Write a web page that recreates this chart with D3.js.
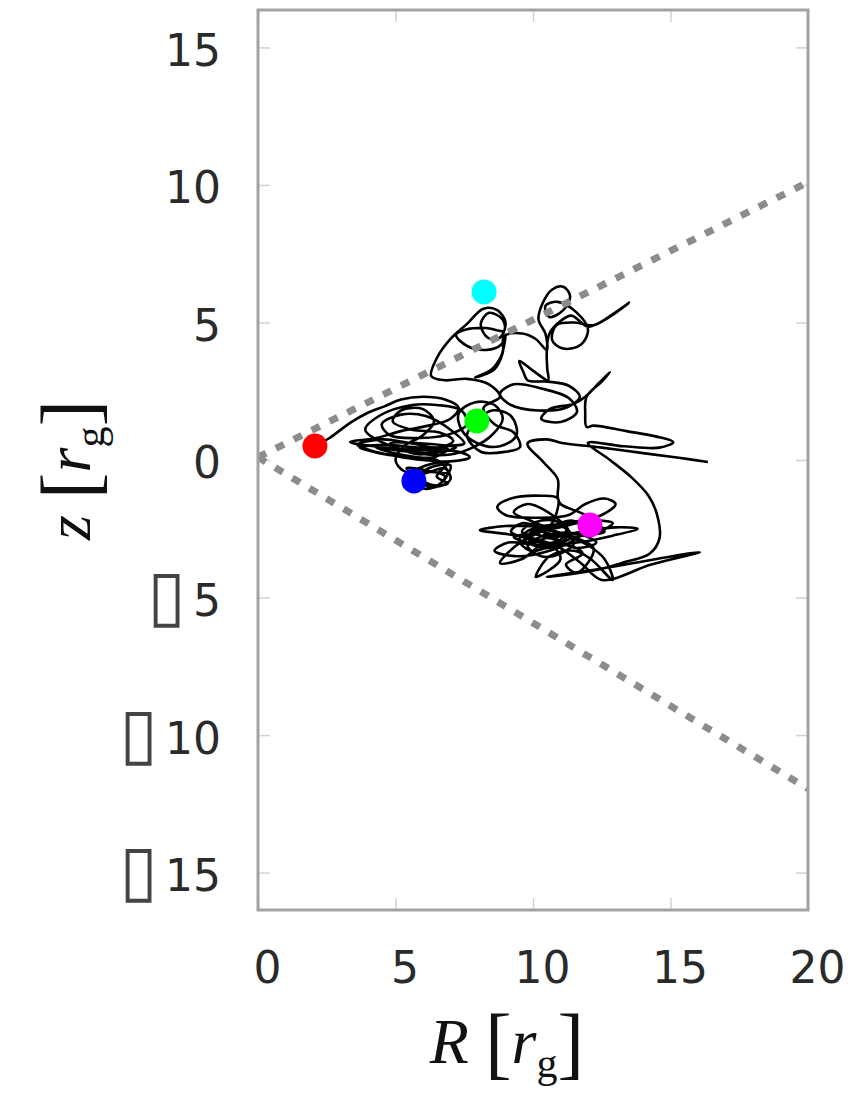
<!DOCTYPE html>
<html><head><meta charset="utf-8">
<script src="https://cdn.jsdelivr.net/npm/d3@7"></script>
<style>html,body{margin:0;padding:0;background:#fff;}svg{display:block;}</style>
</head><body>
<script>
const xTicks = [0, 5, 10, 15, 20];
const yTicks = [-15, -10, -5, 0, 5, 10, 15];
const xDomain = [0, 20];
const yDomain = [-16.36, 16.36];

// trajectory in (R, z) [r_g]
const trajectory = [
[2.07,0.51],[2.6,0.8],[3.35,1.35],[3.96,1.7],[4.6,1.95],[5.2,2.2],[6.0,2.3],[6.8,2.2],[7.3,1.9],[7.0,1.5],[6.2,1.25],[5.2,1.05],[4.3,0.8],[3.35,0.65],[4.2,0.5],[5.2,0.4],[6.3,0.35],[7.3,0.3],[7.7,0.1],[7.0,-0.05],[6.0,0.0],[5.0,0.15],[4.1,0.35],[3.6,0.55],[4.5,0.75],[5.6,0.6],[6.6,0.45],[7.1,0.7],[6.6,1.0],[5.6,1.1],[4.9,1.4],[5.2,1.8],[6.0,1.85],[6.4,1.4],[6.0,0.9],[5.3,0.5],[5.0,0.0],[5.3,-0.4],[6.0,-0.5],[6.8,-0.3],[7.0,-0.7],[6.6,-0.95],[6.0,-0.85],[5.6,-0.5],[6.1,-0.2],[6.9,-0.1],[6.5,-0.6],[6.9,-0.85],[6.3,-0.9],[5.4,-0.3],
[6.2,-0.4],[6.8,-0.6],[6.4,-1.0],[5.8,-0.7],[6.2,-0.3],[7.0,-0.2],[6.7,-0.8],[6.1,-1.05],[5.7,-0.8],[6.0,-0.45],[6.9,-0.45],[6.5,0.0],[5.5,0.1],[4.4,0.25],[3.7,0.45],[4.6,0.55],[5.8,0.45],[6.9,0.4],[6.4,0.1],[5.2,0.2],[4.3,0.45],[5.1,0.35],[6.3,0.25],[7.2,0.45],[6.0,0.6],[4.8,0.6],
[5.9,0.2],[6.8,0.5],[7.5,0.6],[7.0,1.1],[6.1,1.6],[5.2,1.65],[4.5,1.3],[4.8,0.9],[5.9,0.8],[7.0,0.95],[7.6,1.3],[7.4,1.8],[6.5,2.0],[5.6,2.0],[4.4,1.6],[3.9,1.1],[4.6,0.6],[5.8,0.25],[7.0,0.2],[7.8,0.45],[8.5,0.9],[8.9,1.5],[8.6,2.0],[7.9,2.1],[7.3,1.7],[7.4,1.1],[8.0,0.6],[8.8,0.5],[9.4,0.9],[9.2,1.6],[8.5,1.8],[7.96,1.42],[7.6,0.9],[8.1,0.3],[9.0,0.3],[9.53,0.47],[9.3,1.0],[8.6,1.3],[8.2,1.9],[8.8,2.3],
[8.4,2.75],[7.6,2.95],[6.8,2.9],[6.3,3.05],[6.5,3.7],[7.0,4.4],[7.6,4.95],[8.2,5.5],[8.7,5.45],[9.0,5.0],[8.8,4.45],[8.35,4.45],[8.1,4.95],[8.4,5.35],[8.9,5.1],[8.95,4.7],[8.3,4.8],[7.6,4.75],[7.2,4.55],[7.6,4.15],[8.3,4.0],[8.85,4.2],[9.0,4.55],[8.85,3.8],[8.5,3.3],[7.9,3.0],[8.6,3.3],[8.9,3.9],[8.95,4.5],[9.6,4.6],[10.1,4.4],[10.5,4.0],
[10.45,4.6],[10.2,5.1],[10.35,5.7],[10.7,6.2],[11.1,6.3],[11.35,5.95],[11.1,5.45],[10.6,5.2],[10.45,5.6],[10.9,5.75],[11.6,5.35],[12.0,4.75],[11.75,4.2],[11.1,4.05],[10.7,4.35],[10.85,4.9],[11.5,5.0],[12.2,4.9],[12.9,5.3],[13.5,5.72],[12.7,5.15],[12.0,4.85],[11.4,5.25],[11.0,5.05],[10.6,4.6],[10.5,3.9],[10.52,3.3],[10.55,2.9],
[10.0,3.25],[9.5,3.6],[9.65,3.2],[9.8,2.9],[10.55,2.85],[11.3,2.7],[11.7,2.3],[11.2,1.9],[10.2,1.8],[9.2,2.0],[8.8,2.4],[9.3,2.75],[10.3,2.6],[11.3,2.25],[11.6,1.75],[11.0,1.38],[10.3,1.5],[10.6,1.85],[11.5,2.05],[11.9,2.3],[12.4,2.8],[12.8,3.2],[12.5,2.85],[11.95,2.3],[11.9,1.7],[11.95,1.2],
[12.2,1.25],[13.4,1.05],[14.5,0.85],[15.1,0.65],[14.6,0.45],[13.3,0.5],[12.0,0.62],[12.8,0.0],[13.6,-0.65],[14.2,-1.3],[14.5,-1.95],[14.6,-2.85],[14.25,-3.4],[13.2,-3.75],[12.3,-4.0],[11.0,-4.2],[10.5,-4.25],[12.5,-3.95],[14.5,-3.6],[16.07,-3.35],[14.3,-3.8],[12.5,-4.36],[11.8,-3.8],
[11.0,-3.2],[10.2,-2.9],[9.1,-2.7],[8.07,-2.55],[9.0,-2.4],[10.3,-2.4],[11.5,-2.25],[12.5,-2.0],[13.0,-1.6],[12.6,-1.4],[11.9,-1.6],[11.3,-2.0],[10.2,-2.1],[9.0,-2.0],[8.7,-1.7],[9.2,-1.4],[10.3,-1.3],[10.9,-1.4],[10.8,-2.1],[10.4,-2.8],[11.8,-2.6],[13.0,-2.45],[13.8,-2.5],[12.9,-2.75],[11.6,-3.0],[10.2,-3.1],[9.1,-3.0],[8.6,-3.3],[9.4,-3.5],[10.6,-3.3],[11.5,-2.9],[12.0,-2.5],[11.4,-2.2],[10.3,-2.6],[9.4,-3.1],[8.8,-3.75],[9.6,-3.6],[10.5,-3.0],[11.0,-3.6],[10.1,-4.25],[10.6,-3.5],[11.5,-3.3],[12.1,-3.6],[12.9,-4.36],[12.6,-3.6],[12.0,-3.1],[11.1,-2.7],[9.9,-2.2],[9.3,-1.9],[9.8,-1.6],[10.7,-2.0],[11.3,-2.6],[11.0,-3.0],[10.0,-2.9],[9.2,-2.6],[9.6,-2.3],[10.6,-2.5],[11.6,-2.3],[12.3,-2.2],[12.9,-2.3],[12.4,-2.6],[11.2,-2.8],[10.1,-2.6],[9.7,-2.9],[10.4,-3.2],[11.3,-3.1],[11.8,-3.4],[11.2,-3.8],[11.6,-4.1],[12.2,-3.2],
[10.2,-2.5],[10.9,-2.9],[10.5,-3.2],[9.8,-2.8],[10.4,-2.4],[11.2,-2.5],[11.0,-2.9],[10.2,-3.0],[9.6,-2.6],[10.3,-2.2],[11.0,-2.3],[11.4,-2.8],[10.7,-3.1],[9.9,-3.3],[9.5,-2.9],[10.0,-2.5],[10.8,-2.6],[11.5,-3.0],[11.0,-3.4],[10.3,-3.5],[9.8,-3.1],[10.6,-2.7],[11.7,-2.7],[12.3,-3.0],[11.6,-3.2],[10.8,-2.9],[10.0,-2.7],[9.3,-2.8],[9.9,-3.0],[10.9,-2.7],
[12.6,-2.6],[11.9,-2.0],[11.0,-1.6],[10.9,-1.35],
[10.9,-0.7],[10.4,-0.1],[9.8,0.6],[10.5,0.75],[11.05,0.62],[12.5,0.45],[14.0,0.25],[15.3,0.08],[16.36,-0.07]
];

const markerR = [2.07, 5.67, 7.96, 8.22, 12.07];
const markerZ = [0.51, -0.76, 1.42, 6.11, -2.36];
const markerColors = ["#ff0000", "#0000ff", "#00ff00", "#00ffff", "#ff00ff"];

// dotted boundary lines (R, z)
const upperBoundary = [[0, 0.1], [20, 10.1]];
const lowerBoundary = [[0, 0.1], [20, -11.95]];

const W = 850, H = 1097;
const svg = d3.select("body").append("svg").attr("width", W).attr("height", H);
const x = d3.scaleLinear().domain(xDomain).range([258, 808]);
const y = d3.scaleLinear().domain(yDomain).range([910, 10]);

svg.append("defs").append("clipPath").attr("id", "clip")
  .append("rect").attr("x", 258).attr("y", 10).attr("width", 550).attr("height", 900);

const tickColor = "#d2d2d2";

function styleAxis(g, labels) {
  g.select(".domain").remove();
  g.selectAll(".tick line").attr("stroke", tickColor).attr("stroke-width", 1.5);
  if (!labels) g.selectAll(".tick text").remove();
  g.selectAll(".tick text").attr("fill", "#2a2a2a")
    .style("font-family", "DejaVu Sans").style("font-size", "44px");
}

svg.append("g").attr("transform", "translate(0,910)")
  .call(d3.axisBottom(x).tickValues(xTicks).tickSizeInner(-12).tickSizeOuter(0).tickPadding(42))
  .call(g => styleAxis(g, true))
  .selectAll(".tick text").attr("dx", 9);
svg.append("g").attr("transform", "translate(0,10)")
  .call(d3.axisTop(x).tickValues(xTicks).tickSizeInner(-12).tickSizeOuter(0))
  .call(g => styleAxis(g, false));
const yAx = svg.append("g").attr("transform", "translate(258,0)")
  .call(d3.axisLeft(y).tickValues(yTicks).tickSizeInner(-12).tickSizeOuter(0).tickPadding(37))
  .call(g => styleAxis(g, true));
// the minus sign shows as a missing-glyph box in the original
yAx.selectAll(".tick text").attr("dy", "0.4em").each(function(d) {
  const t = d3.select(this);
  if (d < 0) {
    t.text(null).attr("dy", null);
    t.append("tspan").style("font-size", "70px").attr("dy", 21).attr("fill", "#444").text("\u25AF");
    t.append("tspan").attr("dx", 7).attr("dy", -3).text(String(Math.abs(d)));
  }
});
svg.append("g").attr("transform", "translate(808,0)")
  .call(d3.axisRight(y).tickValues(yTicks).tickSizeInner(-12).tickSizeOuter(0))
  .call(g => styleAxis(g, false));

const plot = svg.append("g").attr("clip-path", "url(#clip)");
const line = d3.line().x(d => x(d[0])).y(d => y(d[1]));

plot.append("path").datum(trajectory)
  .attr("d", line.curve(d3.curveCatmullRom.alpha(0.5)))
  .attr("fill", "none").attr("stroke", "#000").attr("stroke-width", 2.6)
  .attr("stroke-linejoin", "round");

const straight = d3.line().x(d => x(d[0])).y(d => y(d[1]));
[upperBoundary, lowerBoundary].forEach(b => {
  plot.append("path").datum(b).attr("d", straight)
    .attr("fill", "none").attr("stroke", "#8c8c8c").attr("stroke-width", 7)
    .attr("stroke-dasharray", "9,11");
});

plot.selectAll("circle.m").data(markerR).enter().append("circle")
  .attr("class", "m")
  .attr("cx", d => x(d))
  .attr("cy", (d, i) => y(markerZ[i]))
  .attr("r", 12.5)
  .attr("fill", (d, i) => markerColors[i]);

svg.append("rect").attr("x", 258).attr("y", 10).attr("width", 550).attr("height", 900)
  .attr("fill", "none").attr("stroke", "#a3a3a3").attr("stroke-width", 3);

// axis labels
function mathLabel(sel, sym) {
  sel.style("font-family", "Liberation Serif").style("font-size", "64px").attr("fill", "#111");
  sel.append("tspan").style("font-style", "italic").text(sym);
  sel.append("tspan").text(" ");
  sel.append("tspan").style("font-size", "80px").attr("dy", 6).text("[");
  sel.append("tspan").style("font-style", "italic").attr("dy", -6).text("r");
  sel.append("tspan").style("font-size", "42px").attr("dy", 14).text("g");
  sel.append("tspan").style("font-size", "80px").attr("dy", -8).text("]");
}
mathLabel(svg.append("text").attr("x", 507).attr("y", 1063).attr("text-anchor", "middle"), "R");
mathLabel(svg.append("text").attr("transform", "translate(90,470) rotate(-90)").attr("text-anchor", "middle"), "z");
</script>
</body></html>
